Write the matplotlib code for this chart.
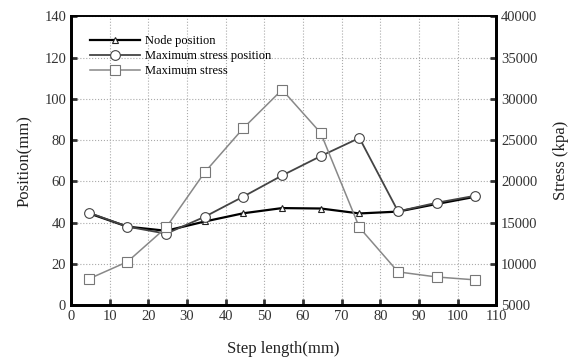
import matplotlib.pyplot as plt

plt.rcParams['font.family'] = ['Liberation Serif', 'DejaVu Serif']

step = [4.6, 14.6, 24.6, 34.6, 44.6, 54.6, 64.6, 74.6, 84.6, 94.6, 104.6]
node_pos = [44.5, 38.0, 36.0, 40.5, 44.5, 47.0, 46.8, 44.4, 45.3, 49.0, 52.5]
max_stress_pos = [44.8, 38.0, 34.6, 42.8, 52.6, 62.8, 72.2, 81.0, 45.4, 49.6, 53.0]
max_stress = [8170, 10250, 14400, 21100, 26450, 31100, 25850, 14400, 9020, 8400, 8050]

fig = plt.figure(figsize=(5.73, 3.61), dpi=100)
ax = fig.add_axes([0.124, 0.155, 0.742, 0.8])
ax2 = ax.twinx()

l1, = ax.plot(step, node_pos, color='black', lw=1.6, marker='^', ms=5,
              mfc='white', mec='#222222', mew=0.8, label='Node position')
l2, = ax.plot(step, max_stress_pos, color='#444444', lw=1.3, marker='o', ms=7,
              mfc='white', mec='#444444', mew=0.8, label='Maximum stress position')
l3, = ax2.plot(step, max_stress, color='#888888', lw=1.1, marker='s', ms=6.5,
               mfc='white', mec='#777777', mew=0.8, label='Maximum stress')

ax.set_xlim(0, 110)
ax.set_ylim(0, 140)
ax2.set_ylim(5000, 40000)
ax.set_xticks(range(0, 111, 10))
ax.set_yticks(range(0, 141, 20))
ax2.set_yticks(range(5000, 40001, 5000))

ax.grid(True, color='#aaaaaa', ls=':', lw=0.8)
ax.set_axisbelow(True)

for a in (ax, ax2):
    for s in a.spines.values():
        s.set_linewidth(1.2)
    a.spines['left'].set_linewidth(2)
    a.spines['bottom'].set_linewidth(2)
    a.spines['right'].set_linewidth(2)
    a.tick_params(direction='in', width=2, length=4, labelsize=10.5, colors='#333333')

ax.set_xlabel('Step length(mm)', fontsize=12, color='#222222', labelpad=13)
ax.set_ylabel('Position(mm)', fontsize=12, color='#222222', labelpad=8)
ax2.set_ylabel('Stress (kpa)', fontsize=12, color='#222222', labelpad=11)

ax.legend(handles=[l1, l2, l3], loc='upper left', frameon=False, fontsize=9,
          handlelength=4.0, handletextpad=0.4, labelspacing=0.25,
          borderaxespad=0.4, bbox_to_anchor=(0.02, 0.97))

fig.savefig('out.png', dpi=100)
